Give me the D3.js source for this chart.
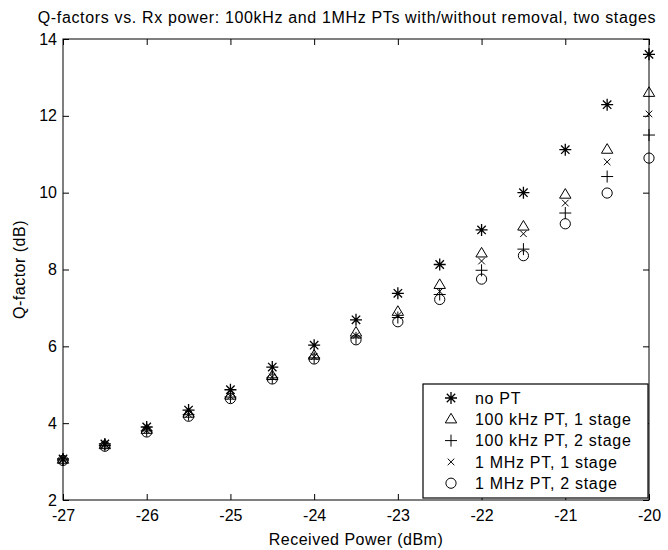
<!DOCTYPE html>
<html lang="en">
<head>
<meta charset="utf-8">
<title>Q-factors vs. Rx power</title>
<script src="https://cdn.jsdelivr.net/npm/d3@7"></script>
<style>
  body { margin: 0; background: #fff; }
  svg text { font-family: "Liberation Sans", Arial, sans-serif; fill: #000; }
</style>
</head>
<body>
<script>
/* data */
var rxPower = [-27, -26.5, -26, -25.5, -25, -24.5, -24, -23.5, -23, -22.5, -22, -21.5, -21, -20.5, -20];
var qNoPT    = [3.07, 3.46, 3.90, 4.34, 4.87, 5.46, 6.03, 6.69, 7.38, 8.13, 9.03, 10.00, 11.12, 12.29, 13.60];
var q100k1   = [3.05, 3.43, 3.83, 4.25, 4.72, 5.23, 5.76, 6.36, 6.90, 7.60, 8.42, 9.12, 9.95, 11.12, 12.60];
var q100k2   = [3.04, 3.42, 3.80, 4.22, 4.68, 5.18, 5.70, 6.22, 6.75, 7.35, 7.98, 8.53, 9.47, 10.42, 11.50];
var q1M1     = [3.05, 3.42, 3.81, 4.23, 4.70, 5.20, 5.73, 6.28, 6.80, 7.43, 8.22, 8.93, 9.73, 10.80, 12.05];
var q1M2     = [3.03, 3.40, 3.77, 4.18, 4.64, 5.15, 5.67, 6.17, 6.64, 7.22, 7.75, 8.36, 9.19, 9.99, 10.90];
var seriesNames = ["no PT", "100 kHz PT, 1 stage", "100 kHz PT, 2 stage", "1 MHz PT, 1 stage", "1 MHz PT, 2 stage"];
var seriesMarks = ["star", "triangle", "plus", "cross", "circle"];
var xTicks = [-27, -26, -25, -24, -23, -22, -21, -20];
var yTicks = [2, 4, 6, 8, 10, 12, 14];

var series = [qNoPT, q100k1, q100k2, q1M1, q1M2];

var w = 668, h = 550;
var margin = {left: 63, right: 19, top: 39, bottom: 50};

var svg = d3.select("body").append("svg")
    .attr("width", w)
    .attr("height", h);

var xScale = d3.scaleLinear().domain([-27, -20]).range([margin.left, w - margin.right]);
var yScale = d3.scaleLinear().domain([2, 14]).range([h - margin.bottom, margin.top]);

// marker path drawing, MATLAB-ish shapes
function markerPath(type, s) {
    var p = d3.path();
    if (type == "star") {
        var a = s * 0.7;
        p.moveTo(-s, 0); p.lineTo(s, 0);
        p.moveTo(0, -s); p.lineTo(0, s);
        p.moveTo(-a, -a); p.lineTo(a, a);
        p.moveTo(-a, a); p.lineTo(a, -a);
    } else if (type == "triangle") {
        p.moveTo(0, -s); p.lineTo(s * 0.95, s * 0.6); p.lineTo(-s * 0.95, s * 0.6); p.closePath();
    } else if (type == "plus") {
        p.moveTo(-s, 0); p.lineTo(s, 0);
        p.moveTo(0, -s); p.lineTo(0, s);
    } else if (type == "cross") {
        var c = s * 0.55;
        p.moveTo(-c, -c); p.lineTo(c, c);
        p.moveTo(-c, c); p.lineTo(c, -c);
    } else if (type == "circle") {
        p.arc(0, 0, s * 0.85, 0, 2 * Math.PI);
    }
    return p.toString();
}

// axes box
svg.append("rect")
    .attr("x", xScale(-27)).attr("y", yScale(14))
    .attr("width", xScale(-20) - xScale(-27))
    .attr("height", yScale(2) - yScale(14))
    .attr("fill", "none").attr("stroke", "#000").attr("stroke-width", 1);

var tickLen = 6;
var fmt = function(d) { return String(d); };
var xAxis = d3.axisBottom(xScale).tickValues(xTicks).tickFormat(fmt).tickSizeInner(-tickLen).tickSizeOuter(0).tickPadding(10);
var yAxis = d3.axisLeft(yScale).tickValues(yTicks).tickFormat(fmt).tickSizeInner(-tickLen).tickSizeOuter(0).tickPadding(6);

var gx = svg.append("g").attr("transform", "translate(0," + yScale(2) + ")").call(xAxis);
var gy = svg.append("g").attr("transform", "translate(" + xScale(-27) + ",0)").call(yAxis);
var gxTop = svg.append("g").attr("transform", "translate(0," + yScale(14) + ")")
    .call(d3.axisTop(xScale).tickValues(xTicks).tickSizeInner(-tickLen).tickSizeOuter(0).tickFormat(""));
var gyRight = svg.append("g").attr("transform", "translate(" + xScale(-20) + ",0)")
    .call(d3.axisRight(yScale).tickValues(yTicks).tickSizeInner(-tickLen).tickSizeOuter(0).tickFormat(""));

[gx, gy, gxTop, gyRight].forEach(function(g) {
    g.select(".domain").remove();
    g.selectAll("line").attr("stroke", "#000");
    g.selectAll("text").style("font-size", "16px").attr("fill", "#000")
        .style("font-family", "'Liberation Sans', Arial, sans-serif");
});

// data markers
series.forEach(function(vals, si) {
    svg.append("g").selectAll("path")
        .data(vals)
        .enter()
        .append("path")
        .attr("transform", function(d, i) {
            return "translate(" + xScale(rxPower[i]) + "," + yScale(d) + ")";
        })
        .attr("d", markerPath(seriesMarks[si], 6))
        .attr("fill", "none")
        .attr("stroke", "#000")
        .attr("stroke-width", seriesMarks[si] == "star" ? 1.3 : 1);
});

// title and labels
svg.append("text")
    .attr("x", 347)
    .attr("y", 23)
    .attr("text-anchor", "middle")
    .style("font-size", "16px")
    .style("letter-spacing", "0.65px")
    .text("Q-factors vs. Rx power: 100kHz and 1MHz PTs with/without removal, two stages");

svg.append("text")
    .attr("x", (xScale(-27) + xScale(-20)) / 2)
    .attr("y", 545)
    .attr("text-anchor", "middle")
    .style("font-size", "16px")
    .style("letter-spacing", "0.5px")
    .text("Received Power (dBm)");

svg.append("text")
    .attr("transform", "translate(25," + (yScale(8)) + ") rotate(-90)")
    .attr("text-anchor", "middle")
    .style("font-size", "16px")
    .style("letter-spacing", "0.5px")
    .text("Q-factor (dB)");

// legend
var legend = svg.append("g");
legend.append("rect")
    .attr("x", 423).attr("y", 384)
    .attr("width", 225).attr("height", 114)
    .attr("fill", "#fff").attr("stroke", "#000").attr("stroke-width", 1.2);

var rows = legend.selectAll("g.row")
    .data(seriesNames)
    .enter()
    .append("g")
    .attr("class", "row")
    .attr("transform", function(d, i) { return "translate(451," + (398 + i * 21.3) + ")"; });

rows.append("path")
    .attr("d", function(d, i) { return markerPath(seriesMarks[i], 6); })
    .attr("fill", "none")
    .attr("stroke", "#000")
    .attr("stroke-width", function(d, i) { return seriesMarks[i] == "star" ? 1.3 : 1; });

rows.append("text")
    .attr("x", 24)
    .attr("dy", "0.36em")
    .style("font-size", "16px")
    .style("letter-spacing", "0.7px")
    .text(function(d) { return d; });
</script>
</body>
</html>
